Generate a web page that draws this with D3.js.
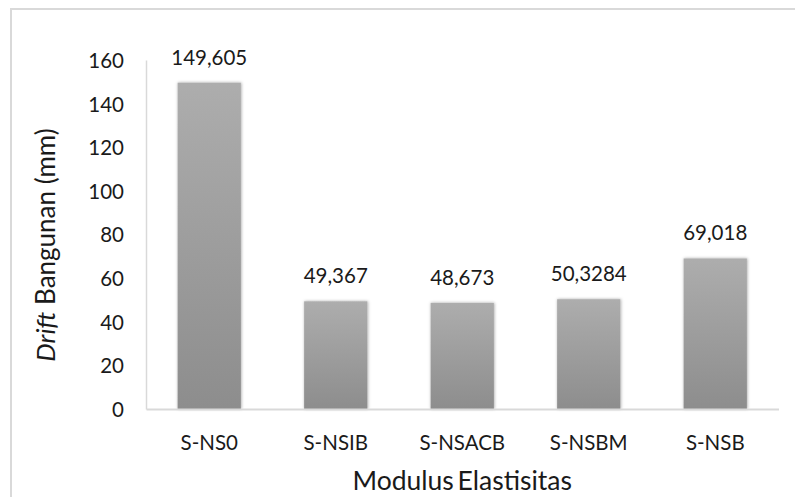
<!DOCTYPE html>
<html>
<head>
<meta charset="utf-8">
<script src="https://cdn.jsdelivr.net/npm/d3@7"></script>
<style>
  html, body { margin: 0; padding: 0; background: #fff; }
  svg { display: block; }
  text { font-family: Lato, "Open Sans", sans-serif; fill: #1a1a1a; }
</style>
</head>
<body>
<svg id="chart" width="795" height="497"></svg>
<script>
// Building drift per model variant
const categories = ["S-NS0", "S-NSIB", "S-NSACB", "S-NSBM", "S-NSB"];
const driftValues = [149.605, 49.367, 48.673, 50.3284, 69.018];
const valueLabels = ["149,605", "49,367", "48,673", "50,3284", "69,018"];
const yTicks = [0, 20, 40, 60, 80, 100, 120, 140, 160];

const W = 795, H = 497;
const margin = { left: 146, right: 16.5, top: 60, bottom: 88 };

const svg = d3.select("#chart");

// chart area frame
svg.append("rect")
  .attr("x", 11).attr("y", 9)
  .attr("width", W + 20).attr("height", H + 20)
  .attr("fill", "none")
  .attr("stroke", "#d9d9d9")
  .attr("stroke-width", 2);

const defs = svg.append("defs");
const grad = defs.append("linearGradient")
  .attr("id", "barFill")
  .attr("x1", 0).attr("y1", 0).attr("x2", 0).attr("y2", 1);
grad.append("stop").attr("offset", "0%").attr("stop-color", "#adadad");
grad.append("stop").attr("offset", "100%").attr("stop-color", "#8d8d8d");

const shadow = defs.append("filter")
  .attr("id", "barShadow")
  .attr("x", "-20%").attr("y", "-5%").attr("width", "140%").attr("height", "110%");
shadow.append("feDropShadow")
  .attr("dx", 0.5).attr("dy", 0)
  .attr("stdDeviation", 1.6)
  .attr("flood-color", "#000")
  .attr("flood-opacity", 0.35);

const x = d3.scaleBand()
  .domain(categories)
  .range([margin.left, W - margin.right])
  .paddingInner(0.5)
  .paddingOuter(0.25);

const y = d3.scaleLinear()
  .domain([0, 160])
  .range([H - margin.bottom, margin.top]);

// y axis: labels only, with a light spine
const yAxis = svg.append("g")
  .attr("transform", `translate(${margin.left},0)`)
  .call(d3.axisLeft(y).tickValues(yTicks).tickSize(0).tickPadding(22));
yAxis.select(".domain").attr("stroke", "#d9d9d9").attr("stroke-width", 1.5);
yAxis.selectAll("text")
  .style("font-size", "20.5px")
  .attr("fill", "#1a1a1a")
  .attr("dy", "0.36em");

// bars
svg.append("g")
  .selectAll("rect")
  .data(driftValues)
  .join("rect")
  .attr("x", (d, i) => x(categories[i]))
  .attr("y", d => y(d))
  .attr("width", x.bandwidth())
  .attr("height", d => y(0) - y(d))
  .attr("fill", "url(#barFill)")
  .attr("filter", "url(#barShadow)");

// x axis baseline and category labels
const xAxis = svg.append("g")
  .attr("transform", `translate(0,${y(0)})`)
  .call(d3.axisBottom(x).tickSize(0).tickPadding(26).tickSizeOuter(0));
xAxis.select(".domain").attr("stroke", "#d9d9d9").attr("stroke-width", 2);
xAxis.selectAll("text")
  .style("font-size", "20.5px")
  .attr("fill", "#1a1a1a");

// value labels above bars
svg.append("g")
  .selectAll("text")
  .data(driftValues)
  .join("text")
  .attr("x", (d, i) => x(categories[i]) + x.bandwidth() / 2)
  .attr("y", d => y(d) - 18)
  .attr("text-anchor", "middle")
  .style("font-size", "20.5px")
  .text((d, i) => valueLabels[i]);

// axis titles
svg.append("text")
  .attr("x", (margin.left + W - margin.right) / 2)
  .attr("y", 490)
  .attr("text-anchor", "middle")
  .style("font-size", "26.5px")
  .style("word-spacing", "-3px")
  .text("Modulus Elastisitas");

const yTitle = svg.append("text")
  .attr("transform", "translate(55,245) rotate(-90)")
  .attr("text-anchor", "middle")
  .style("font-size", "26px");
yTitle.append("tspan").style("font-style", "italic").text("Drift");
yTitle.append("tspan").text(" Bangunan (mm)");
</script>
</body>
</html>
